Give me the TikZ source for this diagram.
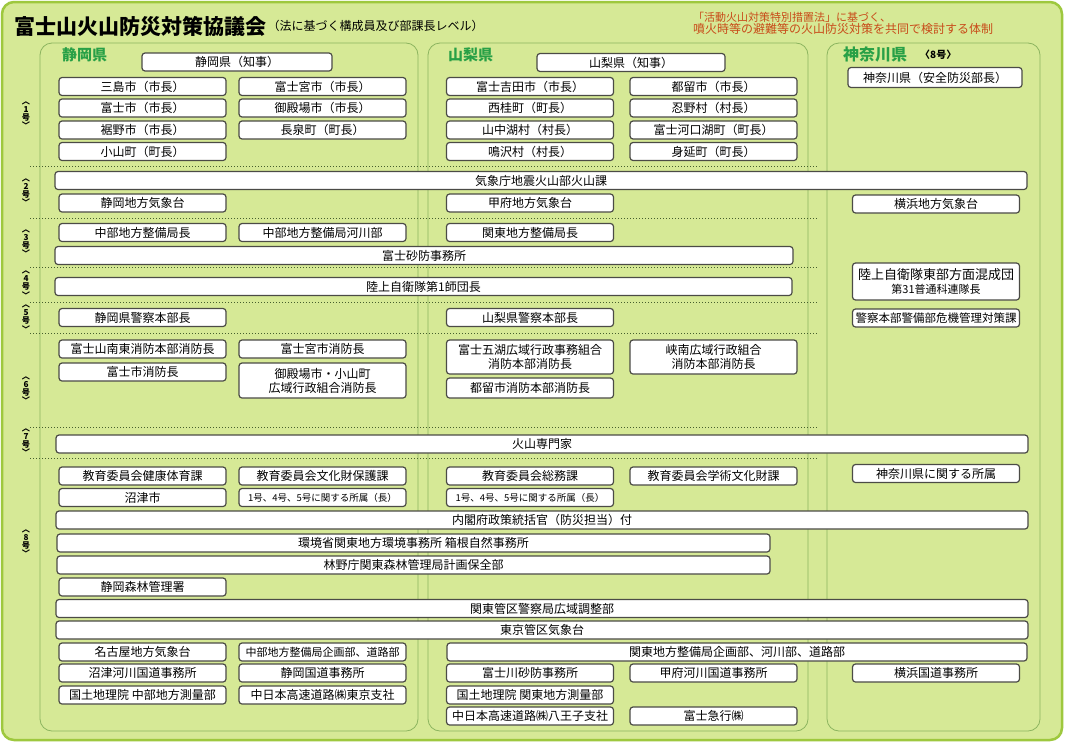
\documentclass[tikz,border=0pt]{standalone}
\usepackage{fontspec}
\setmainfont{Noto Sans CJK JP}
\usetikzlibrary{positioning}
\definecolor{bggreen}{RGB}{214,233,150}
\definecolor{framegreen}{RGB}{158,200,62}
\definecolor{panelgreen}{RGB}{140,180,95}
\definecolor{sepgreen}{RGB}{70,95,45}
\definecolor{kengreen}{RGB}{40,160,70}
\definecolor{lawred}{RGB}{200,75,25}
\definecolor{boxgray}{RGB}{75,75,70}
\protected\def\tightlines{\lineskiplimit=-20pt\relax\lineskip=0pt\relax}
\tikzset{
  frame/.style={
    draw=framegreen, line width=2.5pt,
    fill=bggreen,
    rounded corners=12pt},
  panel/.style={draw=panelgreen, line width=0.8pt, rounded corners=12pt},
  kbox/.style={
    rectangle,
    rounded corners=3pt,
    fill=white,
    draw=boxgray, line width=1.2pt,
    inner sep=0pt,
    minimum height=18pt,
    align=center,
    font=\fontsize{12}{14}\selectfont},
  colbox/.style={kbox, minimum width=167pt},
  fullbox/.style={kbox, minimum width=972pt},
  smalltext/.style={font=\fontsize{9.5}{11}\selectfont},
  sepline/.style={draw=sepgreen, dotted, line width=1pt},
  gou/.style={align=center, inner sep=0pt,
    font=\bfseries\fontsize{8.2}{8.2}\selectfont\tightlines},
  ken/.style={anchor=west, inner sep=0pt, text=kengreen,
    font=\bfseries\fontsize{15}{17}\selectfont},
  lawtext/.style={anchor=west, inner sep=0pt, text=lawred},
}

\begin{document}
\begin{tikzpicture}[x=1pt, y=-1pt]
  \useasboundingbox (0,0) rectangle (1065,742);
  \fill[white] (0,0) rectangle (1065,742);
  % frame and the three prefecture panels
  \draw[frame] (2,2) rectangle (1062,740);
  \draw[panel] (40,43) rectangle (418,731);
  \draw[panel] (428,43) rectangle (808,731);
  \draw[panel] (827,43) rectangle (1040,731);

  % title and the note on the right
  \node[anchor=west, inner sep=0pt, font=\bfseries\fontsize{21}{24}\selectfont] (title) at (14,26) {富士山火山防災対策協議会};
  \node[right=1pt of title, inner sep=0pt, font=\fontsize{12}{14}\selectfont] (subtitle) {（法に基づく構成員及び部課長レベル）};
  \node[lawtext, font=\fontsize{11}{13}\selectfont] (law1) at (693,17) {「活動火山対策特別措置法」に基づく、};
  \node[lawtext, font=\fontsize{12}{14}\selectfont] (law2) at (693,29) {噴火時等の避難等の火山防災対策を共同で検討する体制};

  \node[ken] (shizuoka) at (62,55) {静岡県};
  \node[ken] (yamanashi) at (448,55) {山梨県};
  \node[ken, font=\bfseries\fontsize{16}{18}\selectfont] (kanagawa) at (843,54) {神奈川県};
  \node[anchor=west, inner sep=0pt, font=\bfseries\fontsize{10}{12}\selectfont] (kngou) at (920,55) {〈8号〉};

  % dotted separators and the row labels
  \foreach \y in {166,218,267.5,302,333,427,458}
    \draw[sepline] (30,\y) -- (817,\y);
  \foreach \n/\y in {1/115,2/192,3/243,4/284.5,5/318.5,6/390,7/442,8/543}
    \node[gou] (gou\n) at (26,\y) {︿\\\n\\号\\﹀};

  %% No. 1
  \node[kbox, minimum width=190pt] (szgov) at (237,62) {静岡県（知事）};
  \node[kbox, minimum width=188pt] (ynsgov) at (631,62.5) {山梨県（知事）};
  \node[kbox, minimum width=174pt, minimum height=20pt] (kngov) at (935,77.5) {神奈川県（安全防災部長）};
  \node[colbox] (mishima) at (142.5,86.5) {三島市（市長）};
  \node[colbox] (fujinomiya) at (322.5,86.5) {富士宮市（市長）};
  \node[colbox] (fuji) at (142.5,108) {富士市（市長）};
  \node[colbox] (gotemba) at (322.5,108) {御殿場市（市長）};
  \node[colbox] (susono) at (142.5,130) {裾野市（市長）};
  \node[colbox] (nagaizumi) at (322.5,130) {長泉町（町長）};
  \node[colbox] (oyama) at (142.5,151.5) {小山町（町長）};
  \node[colbox] (fujiyoshida) at (530,86.5) {富士吉田市（市長）};
  \node[colbox] (tsuru) at (713.5,86.5) {都留市（市長）};
  \node[colbox] (nishikatsura) at (530,108) {西桂町（町長）};
  \node[colbox] (oshino) at (713.5,108) {忍野村（村長）};
  \node[colbox] (yamanakako) at (530,130) {山中湖村（村長）};
  \node[colbox] (kawaguchiko) at (713.5,130) {富士河口湖町（町長）};
  \node[colbox] (narusawa) at (530,151.5) {鳴沢村（村長）};
  \node[colbox] (minobu) at (713.5,151.5) {身延町（町長）};

  %% No. 2
  \node[fullbox] (kazan) at (541,180.5) {気象庁地震火山部火山課};
  \node[colbox] (szjma) at (142.5,203) {静岡地方気象台};
  \node[colbox] (kofujma) at (530,203) {甲府地方気象台};
  \node[colbox] (ykjma) at (936,204) {横浜地方気象台};

  %% No. 3
  \node[colbox] (chubu) at (142.5,232.5) {中部地方整備局長};
  \node[colbox] (chubukasen) at (322.5,232.5) {中部地方整備局河川部};
  \node[colbox] (kanto) at (530,232.5) {関東地方整備局長};
  \node[kbox, minimum width=738pt] (sabo) at (424,255.5) {富士砂防事務所};

  %% No. 4
  \node[kbox, minimum width=737pt] (gsdf) at (423.5,286.5) {陸上自衛隊第1師団長};
  \node[colbox, minimum height=37pt] (gsdfeast) at (936,281.5)
    {{\fontsize{13}{15}\selectfont 陸上自衛隊東部方面混成団}\\{\fontsize{11}{13}\selectfont 第31普通科連隊長}};

  %% No. 5
  \node[colbox] (szpolice) at (142.5,317.5) {静岡県警察本部長};
  \node[colbox] (ynpolice) at (530,317.5) {山梨県警察本部長};
  \node[colbox, font=\fontsize{11.5}{13}\selectfont] (knpolice) at (936,318) {警察本部警備部危機管理対策課};

  %% No. 6
  \node[colbox] (fire1) at (142.5,349) {富士山南東消防本部消防長};
  \node[colbox] (fire2) at (322.5,349) {富士宮市消防長};
  \node[colbox] (fire3) at (142.5,372) {富士市消防長};
  \node[colbox, minimum height=35pt] (fire4) at (322.5,380.5) {御殿場市・小山町\\広域行政組合消防長};
  \node[colbox, minimum height=34pt] (fire5) at (530,357) {富士五湖広域行政事務組合\\消防本部消防長};
  \node[colbox, minimum height=34pt] (fire6) at (713.5,357) {峡南広域行政組合\\消防本部消防長};
  \node[colbox, minimum height=20pt] (fire7) at (530,388) {都留市消防本部消防長};

  %% No. 7
  \node[fullbox] (expert) at (542,444) {火山専門家};

  %% No. 8
  \node[colbox] (edu1) at (142.5,476) {教育委員会健康体育課};
  \node[colbox] (edu2) at (322.5,476) {教育委員会文化財保護課};
  \node[colbox] (edu3) at (530,476) {教育委員会総務課};
  \node[colbox] (edu4) at (713.5,476) {教育委員会学術文化財課};
  \node[colbox] (knaff) at (936,473.5) {神奈川県に関する所属};
  \node[colbox] (numazu) at (142.5,497.5) {沼津市};
  \node[colbox, smalltext] (szaff) at (322.5,497.5) {1号、4号、5号に関する所属（長）};
  \node[colbox, smalltext] (ynaff) at (530,497.5) {1号、4号、5号に関する所属（長）};
  \node[fullbox] (cao) at (542,520) {内閣府政策統括官（防災担当）付};
  \node[kbox, minimum width=713pt] (moe) at (413.5,543) {環境省関東地方環境事務所 箱根自然事務所};
  \node[kbox, minimum width=713pt] (forest) at (413.5,565) {林野庁関東森林管理局計画保全部};
  \node[colbox] (szforest) at (142.5,587) {静岡森林管理署};
  \node[fullbox] (police) at (542,608.5) {関東管区警察局広域調整部};
  \node[fullbox] (tokyojma) at (542,630) {東京管区気象台};
  \node[colbox] (nagoyajma) at (142.5,652) {名古屋地方気象台};
  \node[colbox, font=\fontsize{11}{13}\selectfont] (chubuplan) at (322.5,652) {中部地方整備局企画部、道路部};
  \node[kbox, minimum width=580pt] (kantoplan) at (737,652) {関東地方整備局企画部、河川部、道路部};
  \node[colbox] (numazuriver) at (142.5,673) {沼津河川国道事務所};
  \node[colbox] (szroad) at (322.5,673) {静岡国道事務所};
  \node[colbox] (fujisabo) at (530,673) {富士川砂防事務所};
  \node[colbox] (kofuriver) at (713.5,673) {甲府河川国道事務所};
  \node[colbox] (ykroad) at (936,673) {横浜国道事務所};
  \node[colbox] (gsichubu) at (142.5,695) {国土地理院 中部地方測量部};
  \node[colbox] (nexcotokyo) at (322.5,695) {中日本高速道路㈱東京支社};
  \node[colbox] (gsikanto) at (530,695) {国土地理院 関東地方測量部};
  \node[colbox] (nexcohachioji) at (530,716) {中日本高速道路㈱八王子支社};
  \node[colbox] (fujikyu) at (713.5,716) {富士急行㈱};
\end{tikzpicture}
\end{document}
